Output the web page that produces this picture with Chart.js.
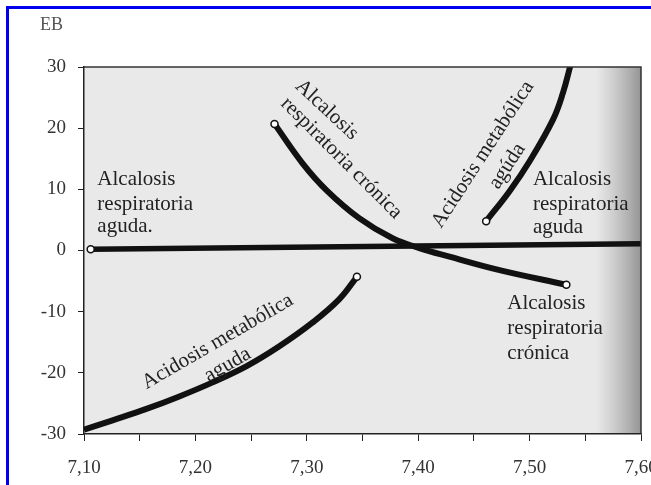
<!DOCTYPE html>
<html>
<head>
<meta charset="utf-8">
<script src="https://cdn.jsdelivr.net/npm/chart.js@4/dist/chart.umd.min.js"></script>
<style>
  body { margin: 0; background: #fff; }
  #wrap { width: 651px; height: 485px; position: relative; }
</style>
</head>
<body>
<div id="wrap"><canvas id="chart" width="651" height="485"></canvas></div>
<script>
// pH vs exceso de bases (EB)
const yTicks = [-30, -20, -10, 0, 10, 20, 30];
const xTickLabels = ['7,10', '7,20', '7,30', '7,40', '7,50', '7,60'];

const respAgudaPH = [7.106, 7.60];
const respAgudaEB = [0.2, 1.1];

const respCronicaPH = [7.271, 7.296, 7.318, 7.347, 7.377, 7.401, 7.428, 7.473, 7.533];
const respCronicaEB = [20.7, 14.3, 9.8, 5.3, 2.0, 0.4, -1.0, -3.2, -5.6];

const metabAltaPH = [7.461, 7.482, 7.500, 7.521, 7.530, 7.537];
const metabAltaEB = [4.8, 9.7, 14.6, 21.4, 25.8, 30.5];

const metabBajaPH = [7.100, 7.125, 7.156, 7.185, 7.215, 7.246, 7.275, 7.305, 7.329, 7.345];
const metabBajaEB = [-29.3, -27.8, -25.9, -23.9, -21.6, -18.9, -15.7, -11.8, -8.0, -4.3];

// anotaciones (texto, posición en unidades de datos, ángulo)
const noteText = ['Alcalosis', 'respiratoria', 'aguda.',
                  'Alcalosis', 'respiratoria', 'aguda',
                  'Alcalosis', 'respiratoria', 'crónica',
                  'Alcalosis', 'respiratoria crónica',
                  'Acidosis metabólica', 'agúda',
                  'Acidosis metabólica', 'aguda'];
const notePH = [7.112, 7.112, 7.112, 7.503, 7.503, 7.503, 7.480, 7.480, 7.480,
                7.318, 7.331, 7.458, 7.480, 7.220, 7.229];
const noteEB = [11.6, 7.5, 3.9, 11.6, 7.5, 3.8, -8.7, -12.8, -16.9,
                23.0, 15.1, 15.7, 13.8, -14.9, -18.7];
const noteAngle = [0, 0, 0, 0, 0, 0, 0, 0, 0, 43, 45, -57, -57, -30, -30];

function pts(xs, ys) {
  return xs.map((x, i) => ({ x: x, y: ys[i] }));
}

function markerAt(idx) {
  return ctx => (idx.includes(ctx.dataIndex) ? 3.5 : 0);
}

function curve(xs, ys, marks, width) {
  return {
    data: pts(xs, ys),
    showLine: true,
    borderColor: '#111',
    borderWidth: width,
    tension: 0.4,
    pointRadius: markerAt(marks),
    pointHoverRadius: 0,
    pointBackgroundColor: '#fff',
    pointBorderColor: '#111',
    pointBorderWidth: 1.5,
    clip: 0
  };
}

const paper = {
  id: 'paper',
  beforeDraw(chart) {
    const c = chart.ctx;
    const a = chart.chartArea;
    c.save();
    c.fillStyle = '#fff';
    c.fillRect(0, 0, chart.width, chart.height);
    c.fillStyle = '#e9e9e9';
    c.fillRect(a.left, a.top, a.right - a.left, a.bottom - a.top);
    const g = c.createLinearGradient(a.right - 45, 0, a.right, 0);
    g.addColorStop(0, 'rgba(150,150,150,0)');
    g.addColorStop(1, 'rgba(120,120,120,0.75)');
    c.fillStyle = g;
    c.fillRect(a.right - 45, a.top, 45, a.bottom - a.top);
    c.restore();
  },
  afterDraw(chart) {
    const c = chart.ctx;
    const a = chart.chartArea;
    const xs = chart.scales.x, ys = chart.scales.y;
    c.save();
    // marco superior y derecho
    c.strokeStyle = '#333';
    c.lineWidth = 1.5;
    c.beginPath();
    c.moveTo(a.left, a.top);
    c.lineTo(a.right, a.top);
    c.lineTo(a.right, a.bottom);
    c.stroke();
    // textos
    c.fillStyle = '#222';
    c.font = '21px "Liberation Serif", serif';
    c.textBaseline = 'middle';
    noteText.forEach((t, i) => {
      const px = xs.getPixelForValue(notePH[i]);
      const py = ys.getPixelForValue(noteEB[i]);
      c.save();
      c.translate(px, py);
      c.rotate(noteAngle[i] * Math.PI / 180);
      c.textAlign = noteAngle[i] === 0 ? 'left' : 'center';
      c.fillText(t, 0, 0);
      c.restore();
    });
    c.font = '18px "Liberation Serif", serif';
    c.fillStyle = '#555';
    c.textAlign = 'left';
    c.fillText('EB', 40, 25);
    // borde azul
    c.fillStyle = '#0000ee';
    c.fillRect(6, 6, chart.width - 6, 3);
    c.fillRect(6, 6, 3, chart.height - 6);
    c.restore();
  }
};

const serif = { family: '"Liberation Serif", serif', size: 19 };

new Chart(document.getElementById('chart'), {
  type: 'scatter',
  data: {
    datasets: [
      curve(respAgudaPH, respAgudaEB, [0], 5.5),
      curve(respCronicaPH, respCronicaEB, [0, respCronicaPH.length - 1], 6),
      curve(metabAltaPH, metabAltaEB, [0], 6),
      curve(metabBajaPH, metabBajaEB, [metabBajaPH.length - 1], 6)
    ]
  },
  options: {
    responsive: false,
    animation: false,
    layout: { padding: { top: 67, right: 10, left: 0, bottom: 0 } },
    plugins: { legend: { display: false }, tooltip: { enabled: false } },
    scales: {
      x: {
        type: 'linear',
        min: 7.10,
        max: 7.60,
        afterBuildTicks: s => {
          const t = [];
          for (let i = 0; i <= 10; i++) t.push({ value: 7.10 + i * 0.05 });
          s.ticks = t;
        },
        afterFit: s => { s.height = 51; s.paddingLeft = 0; s.paddingRight = 0; },
        border: { color: '#222', width: 1.5 },
        grid: { drawOnChartArea: false, tickLength: 7, color: '#222' },
        ticks: {
          font: serif,
          color: '#333',
          padding: 16,
          maxRotation: 0,
          autoSkip: false,
          callback: (v, i) => (i % 2 === 0 ? xTickLabels[i / 2] : '')
        }
      },
      y: {
        min: -30,
        max: 30,
        afterBuildTicks: s => { s.ticks = yTicks.map(v => ({ value: v })); },
        afterFit: s => { s.width = 84; s.paddingTop = 0; s.paddingBottom = 0; },
        border: { color: '#222', width: 1.5 },
        grid: { drawOnChartArea: false, tickLength: 6, color: '#222' },
        ticks: {
          font: serif,
          color: '#333',
          padding: 12,
          callback: v => String(v)
        }
      }
    }
  },
  plugins: [paper]
});
</script>
</body>
</html>
